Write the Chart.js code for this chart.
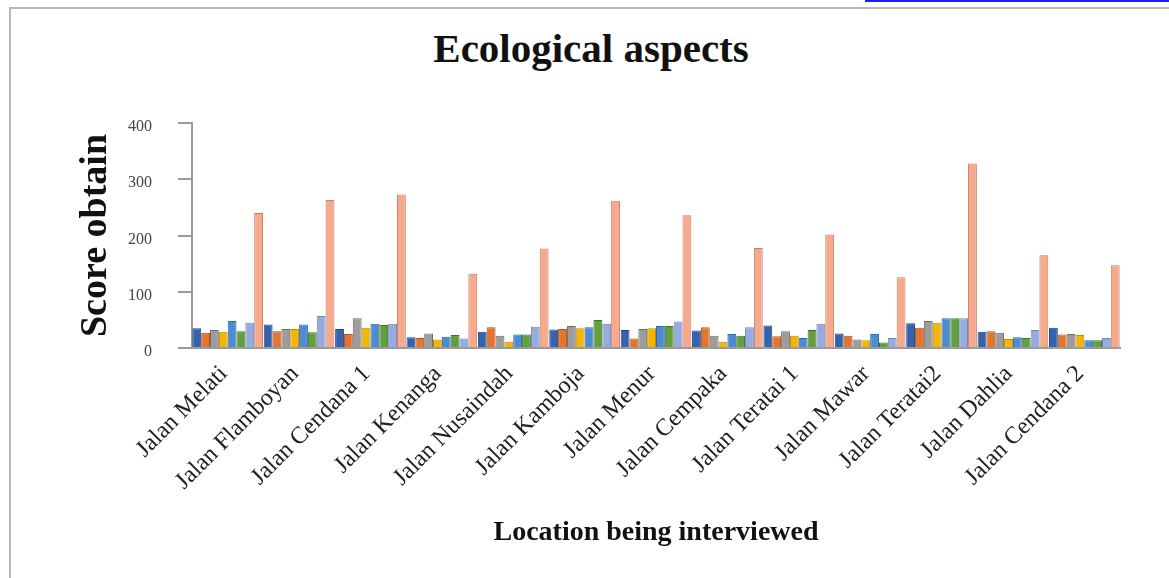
<!DOCTYPE html>
<html><head><meta charset="utf-8">
<script src="https://cdn.jsdelivr.net/npm/chart.js@4.4.1/dist/chart.umd.min.js"></script>
<style>
html,body{margin:0;padding:0;background:#fff;width:1169px;height:578px;overflow:hidden;}
#frame{position:absolute;left:9px;top:7px;right:-5px;bottom:-5px;border-left:2px solid #b8b8b8;border-top:2px solid #b8b8b8;}
#link{position:absolute;left:865px;top:0;width:304px;height:2px;background:#1a1aff;}
#title{position:absolute;left:341px;width:500px;top:28px;text-align:center;font:bold 41px "Liberation Serif",serif;color:#111;line-height:41px;}
canvas{position:absolute;left:0;top:0;}
</style></head><body>
<div id="frame"></div><div id="link"></div>
<div id="title">Ecological aspects</div>
<canvas id="c" width="1169" height="578"></canvas>
<script>
const categories = ['Jalan Melati','Jalan Flamboyan','Jalan Cendana 1','Jalan Kenanga','Jalan Nusaindah','Jalan Kamboja','Jalan Menur','Jalan Cempaka','Jalan Teratai 1','Jalan Mawar','Jalan Teratai2','Jalan Dahlia','Jalan Cendana 2'];
const series1 = [35, 42, 34, 19, 29, 33, 32, 31, 40, 26, 44, 29, 36];
const series2 = [27, 30, 25, 18, 37, 34, 17, 37, 21, 22, 36, 30, 24];
const series3 = [32, 34, 53, 26, 22, 39, 34, 22, 30, 15, 48, 27, 25];
const series4 = [29, 34, 36, 15, 11, 35, 35, 11, 22, 14, 45, 16, 23];
const series5 = [48, 42, 43, 20, 24, 37, 39, 25, 18, 25, 53, 19, 14];
const series6 = [30, 28, 41, 23, 24, 50, 39, 22, 32, 10, 53, 18, 14];
const series7 = [45, 57, 43, 17, 38, 43, 47, 37, 43, 18, 53, 32, 18];
const series8 = [240, 263, 273, 132, 177, 262, 236, 178, 202, 126, 328, 165, 147];
const yTicks = [0, 100, 200, 300, 400];

const allSeries = [series1, series2, series3, series4, series5, series6, series7, series8];
const fills = ['#3462AF','#E6742C','#9C9C9C','#F3B605','#4B8CD2','#62A03E','#96ACE0','#F6A98B'];
const edges = ['#22468A','#B0541A','#6C6C6C','#BF8E00','#2E69A8','#3F7424','#6D84BF','#C57F66'];

new Chart(document.getElementById('c'), {
  type: 'bar',
  data: {
    labels: categories,
    datasets: allSeries.map((d, i) => ({
      label: 'Series ' + (i + 1), data: d,
      backgroundColor: fills[i], borderColor: edges[i], borderWidth: 1,
      categoryPercentage: 0.99, barPercentage: 1.0
    }))
  },
  options: {
    responsive: false, animation: false,
    layout: { padding: { top: 123, right: 49, bottom: 0, left: 0 } },
    plugins: { legend: { display: false }, tooltip: { enabled: false } },
    scales: {
      x: {
        grid: { display: false, drawTicks: false },
        border: { display: true, color: '#9a9a9a', width: 2 },
        ticks: { minRotation: 45, maxRotation: 45, autoSkip: false, padding: 12, labelOffset: -4, color: '#222',
                 font: { family: 'Liberation Serif', size: 24 } },
        title: { display: true, text: 'Location being interviewed', color: '#111',
                 font: { family: 'Liberation Serif', size: 28, weight: 'bold' }, padding: { top: 0, bottom: 28 } },
        afterFit: s => { s.height = 230; }
      },
      y: {
        min: 0, max: 400,
        afterBuildTicks: s => { s.ticks = yTicks.map(v => ({ value: v })); },
        ticks: { padding: 26, labelOffset: 4, color: '#444', font: { family: 'Liberation Serif', size: 16 } },
        grid: { drawOnChartArea: false, drawTicks: true, tickLength: 14, color: '#9a9a9a', lineWidth: 2 },
        border: { display: true, color: '#9a9a9a', width: 2 },
        title: { display: true, text: 'Score obtain', color: '#111',
                 font: { family: 'Liberation Serif', size: 38, weight: 'bold' }, padding: { top: 73, bottom: 0 } },
        afterFit: s => { s.width = 192; }
      }
    }
  }
});
</script>
</body></html>
